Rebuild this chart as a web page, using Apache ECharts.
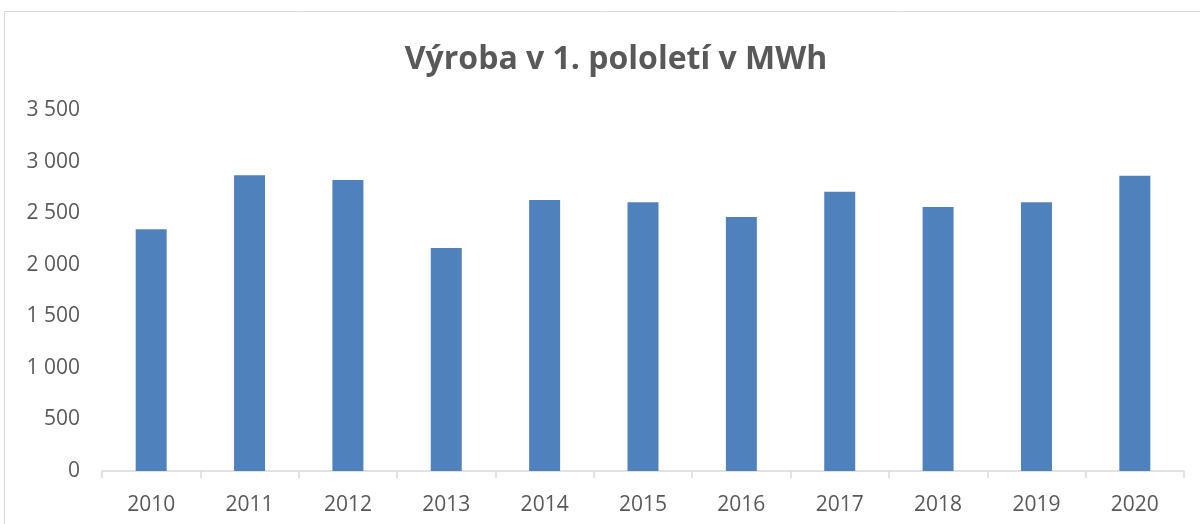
<!DOCTYPE html>
<html>
<head>
<meta charset="utf-8">
<script src="https://cdn.jsdelivr.net/npm/echarts@6/dist/echarts.min.js"></script>
<style>
html,body{margin:0;padding:0;background:#fff;}
#c{width:1200px;height:524px;}
</style>
</head>
<body>
<div id="c"></div>
<script>
const title = 'Výroba v 1. pololetí v MWh';
const categories = ['2010','2011','2012','2013','2014','2015','2016','2017','2018','2019','2020'];
const values = [2347, 2871, 2825, 2165, 2631, 2609, 2466, 2712, 2563, 2609, 2867];
const yMin = 0, yMax = 3500, yStep = 500;

const chart = echarts.init(document.getElementById('c'));
chart.setOption({
  backgroundColor: '#fff',
  animation: false,
  graphic: [{
    type: 'rect',
    shape: {x: 4.5, y: 11.5, width: 1400, height: 700},
    style: {fill: 'none', stroke: '#d9d9d9', lineWidth: 1}
  }],
  title: {
    text: title,
    left: 611, top: 39, textAlign: 'center',
    textStyle: {fontFamily: 'Open Sans', fontWeight: 'bold', fontSize: 32, color: '#595959'}
  },
  grid: {left: 102, right: 16, top: 110.5, bottom: 53, containLabel: false},
  xAxis: {
    type: 'category',
    data: categories,
    axisLine: {lineStyle: {color: '#d9d9d9', width: 1.5}},
    axisTick: {show: true, length: 7, lineStyle: {color: '#d9d9d9', width: 1.5}},
    axisLabel: {fontFamily: 'Open Sans', fontSize: 21, color: '#595959', margin: 24}
  },
  yAxis: {
    type: 'value',
    min: yMin, max: yMax, interval: yStep,
    axisLine: {show: false},
    axisTick: {show: false},
    splitLine: {show: false},
    axisLabel: {
      fontFamily: 'Open Sans', fontSize: 21, color: '#595959', margin: 22,
      formatter: v => String(v).replace(/\B(?=(\d{3})+(?!\d))/g, ' ')
    }
  },
  series: [{
    type: 'bar',
    data: values,
    barWidth: '31.5%',
    itemStyle: {color: '#4F81BD'}
  }]
});
</script>
</body>
</html>
